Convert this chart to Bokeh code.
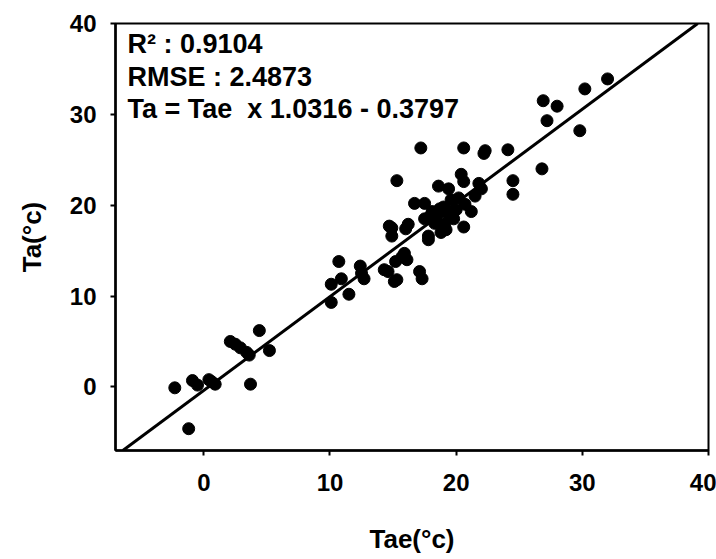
from bokeh.plotting import figure
from bokeh.models import Range1d, FixedTicker, Slope, Label
from bokeh.embed import file_html
from bokeh.resources import INLINE

# Estimated Tae (x) and Ta (y) values
tae = [-2.3, -1.2, -0.9, -0.5, 0.4, 0.9, 0.6,
       2.1, 2.5, 2.9, 3.4, 3.6, 3.7, 4.4, 5.2,
       10.1, 10.1, 10.9, 10.7, 11.5, 12.4, 12.7, 12.5,
       14.3, 14.6, 15.1, 15.3, 15.2, 15.9, 16.1, 15.7, 17.1, 17.3,
       14.9, 14.9, 14.7, 16.2, 16.7, 17.5, 18.1, 18.7, 19.4, 20.7, 21.2, 20.2,
       17.5, 18.3, 19.1, 19.8, 20.6, 19.2, 17.8, 17.8, 18.6, 19.4, 21.8, 20.4,
       20.6, 15.3, 17.2, 20.6, 22.3, 22.2, 24.1, 24.5, 24.5, 26.8, 26.9, 28.0,
       27.2, 29.8, 30.2, 32.0,
       18.5, 19.0, 18.0, 19.6, 20.0, 18.8, 16.0, 21.5, 22.0]
ta = [-0.1, -4.6, 0.7, 0.2, 0.8, 0.3, 0.6,
      5.0, 4.7, 4.3, 3.8, 3.5, 0.3, 6.2, 4.0,
      9.3, 11.3, 11.9, 13.8, 10.2, 13.3, 11.9, 12.5,
      12.9, 12.7, 11.6, 11.8, 13.8, 14.7, 14.0, 14.3, 12.7, 11.9,
      17.5, 16.6, 17.7, 17.9, 20.2, 20.2, 19.3, 19.6, 19.0, 20.1, 19.3, 20.8,
      18.5, 18.0, 17.9, 18.5, 17.6, 17.3, 16.6, 16.2, 22.1, 21.8, 22.4, 23.4,
      22.6, 22.7, 26.3, 26.3, 26.0, 25.7, 26.1, 22.7, 21.2, 24.0, 31.5, 30.9,
      29.3, 28.2, 32.8, 33.9,
      18.8, 19.8, 18.9, 20.6, 19.5, 17.0, 17.4, 21.0, 21.8]

x_ticks = [0, 10, 20, 30, 40]
y_ticks = [0, 10, 20, 30, 40]
slope = 1.0316
intercept = -0.3797
r2 = "0.9104"
rmse = "2.4873"

FONT = "Liberation Sans"

p = figure(width=716, height=559, output_backend="svg", toolbar_location=None,
           x_range=Range1d(-7, 40), y_range=Range1d(-7, 40),
           min_border_left=115, min_border_right=8, min_border_top=23,
           min_border_bottom=109, background_fill_color="white",
           border_fill_color="white")

p.xgrid.grid_line_color = None
p.ygrid.grid_line_color = None
p.outline_line_color = "black"
p.outline_line_width = 2

p.xaxis.ticker = FixedTicker(ticks=x_ticks)
p.yaxis.ticker = FixedTicker(ticks=y_ticks)

for ax in (p.xaxis[0], p.yaxis[0]):
    ax.axis_line_width = 2.5
    ax.axis_line_color = "black"
    ax.major_tick_out = 5
    ax.major_tick_in = 0
    ax.major_tick_line_width = 2
    ax.minor_tick_line_color = None
    ax.major_label_text_font = FONT
    ax.major_label_text_font_style = "bold"
    ax.major_label_text_font_size = "24px"
    ax.major_label_text_color = "black"
    ax.axis_label_text_font = FONT
    ax.axis_label_text_font_style = "bold"
    ax.axis_label_text_font_size = "26px"
    ax.axis_label_text_color = "black"

p.xaxis.axis_label = "Tae(°c)"
p.yaxis.axis_label = "Ta(°c)"
p.xaxis.major_label_standoff = 18
p.yaxis.major_label_standoff = 14
p.xaxis.axis_label_standoff = 30
p.yaxis.axis_label_standoff = 20

p.add_layout(Slope(gradient=slope, y_intercept=intercept,
                   line_color="black", line_width=3))

p.scatter(tae, ta, size=12, color="black")

texts = ["R² : " + r2, "RMSE : " + rmse,
         "Ta = Tae\u00a0 x " + str(slope) + " - " + str(abs(intercept))]
offsets = [5, 38, 70]
for t, off in zip(texts, offsets):
    p.add_layout(Label(x=12, y=427 - off, x_units="screen", y_units="screen",
                       text=t, text_font=FONT, text_font_style="bold",
                       text_font_size="27px", text_baseline="top",
                       text_color="black"))

open("out.html", "w").write(file_html(p, INLINE))
